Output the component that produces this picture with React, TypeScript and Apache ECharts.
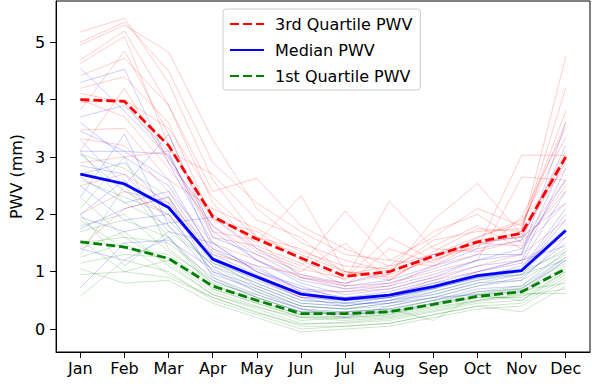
import React, { useEffect, useRef } from "react";
import * as echarts from "echarts";

const months = ["Jan", "Feb", "Mar", "Apr", "May", "Jun", "Jul", "Aug", "Sep", "Oct", "Nov", "Dec"];
const yTicks = [0, 1, 2, 3, 4, 5];

const q3 = [4.0, 3.97, 3.2, 1.96, 1.57, 1.24, 0.92, 1.0, 1.27, 1.52, 1.67, 3.0];
const median = [2.7, 2.53, 2.12, 1.22, 0.91, 0.61, 0.52, 0.59, 0.74, 0.93, 1.02, 1.72];
const q1 = [1.52, 1.43, 1.23, 0.75, 0.5, 0.27, 0.27, 0.3, 0.43, 0.57, 0.65, 1.05];

const redYears = [
  [5.18, 5.42, 4.3, 2.6, 1.6, 1.3, 1.0, 0.95, 1.2, 1.45, 1.7, 4.75],
  [4.95, 5.3, 4.83, 3.3, 2.1, 1.5, 1.2, 1.0, 1.55, 1.7, 1.75, 3.8],
  [4.69, 5.2, 3.9, 2.4, 2.63, 1.8, 1.4, 1.1, 1.3, 1.6, 1.85, 3.35],
  [4.63, 5.1, 3.2, 2.0, 1.5, 2.33, 1.0, 0.9, 1.25, 1.55, 1.6, 3.03],
  [4.42, 4.72, 3.9, 2.2, 1.4, 1.1, 2.06, 1.2, 1.1, 1.5, 1.62, 2.9],
  [4.2, 4.4, 3.6, 1.9, 1.7, 1.2, 0.85, 2.23, 1.4, 1.35, 1.55, 2.6],
  [4.11, 3.95, 3.0, 1.7, 1.55, 0.9, 0.8, 0.95, 1.9, 2.54, 1.65, 3.1],
  [4.0, 3.7, 2.8, 1.8, 1.3, 1.0, 1.5, 0.85, 1.3, 1.4, 3.03, 3.03],
  [3.82, 4.85, 3.4, 1.6, 1.45, 1.15, 0.75, 0.8, 1.0, 1.2, 2.65, 2.6],
  [3.47, 3.5, 2.6, 2.1, 1.75, 1.35, 1.1, 1.05, 1.45, 1.8, 1.4, 2.2],
  [3.32, 3.2, 2.4, 1.5, 1.2, 0.9, 0.7, 0.75, 1.1, 1.3, 1.95, 3.5],
  [2.9, 3.0, 3.1, 2.7, 1.9, 1.6, 0.95, 1.1, 1.7, 2.0, 1.5, 2.4],
  [2.5, 2.7, 2.2, 1.4, 1.0, 0.65, 0.65, 0.7, 0.9, 1.1, 1.3, 1.9],
  [2.0, 2.4, 2.0, 1.3, 1.1, 0.95, 0.75, 1.4, 1.15, 1.6, 1.9, 2.8],
  [1.43, 2.1, 2.3, 1.2, 0.9, 0.55, 0.55, 0.6, 0.85, 1.0, 1.2, 1.6],
  [5.0, 5.35, 4.5, 2.9, 2.2, 1.7, 1.3, 1.2, 1.6, 2.1, 1.8, 3.6],
  [3.95, 4.0, 3.5, 2.3, 1.6, 1.4, 1.0, 0.85, 1.35, 1.75, 1.7, 4.2],
  [3.1, 4.2, 2.9, 1.95, 1.35, 1.05, 0.88, 1.6, 1.2, 1.5, 1.45, 2.5],
];

const blueYears = [
  [4.55, 3.8, 3.0, 1.8, 1.2, 0.8, 0.6, 0.7, 0.9, 1.2, 1.3, 3.6],
  [4.3, 4.53, 2.9, 1.5, 1.0, 0.7, 0.55, 0.65, 0.85, 1.1, 1.2, 2.8],
  [3.7, 3.9, 3.1, 1.4, 1.1, 0.65, 0.5, 0.6, 0.8, 1.0, 1.15, 2.4],
  [3.45, 3.1, 2.6, 1.3, 0.95, 0.6, 0.45, 0.55, 0.75, 0.95, 1.05, 2.1],
  [3.1, 3.1, 3.05, 1.6, 1.3, 0.9, 0.75, 0.85, 1.1, 1.4, 1.55, 3.2],
  [3.05, 2.4, 2.2, 1.2, 0.85, 0.55, 0.4, 0.5, 0.7, 0.9, 1.0, 1.9],
  [2.85, 2.7, 1.9, 1.1, 0.8, 0.5, 0.45, 0.45, 0.65, 0.85, 0.95, 1.7],
  [2.65, 2.2, 2.4, 1.25, 0.9, 0.6, 0.55, 0.6, 0.8, 0.9, 1.1, 1.75],
  [2.5, 1.9, 2.0, 1.0, 0.75, 0.45, 0.4, 0.5, 0.6, 0.8, 0.85, 1.6],
  [2.3, 3.4, 1.8, 0.95, 0.7, 0.4, 0.35, 0.45, 0.55, 0.75, 0.9, 1.5],
  [2.0, 2.6, 1.7, 1.5, 1.0, 0.75, 0.5, 0.55, 0.7, 1.0, 1.2, 1.45],
  [1.75, 2.1, 2.3, 0.9, 0.6, 0.35, 0.3, 0.35, 0.5, 0.7, 0.75, 1.35],
  [1.4, 1.2, 1.6, 0.85, 0.55, 0.3, 0.25, 0.3, 0.45, 0.65, 0.7, 1.25],
  [0.72, 1.5, 1.55, 1.05, 0.65, 0.35, 0.2, 0.4, 0.55, 0.6, 0.65, 1.2],
  [3.6, 3.0, 2.5, 1.35, 1.05, 0.7, 0.65, 0.75, 0.95, 1.2, 1.4, 2.6],
  [2.7, 2.9, 2.1, 1.15, 0.88, 0.55, 0.5, 0.55, 0.72, 0.88, 1.02, 2.0],
  [1.95, 1.7, 1.85, 1.95, 1.4, 0.95, 0.8, 1.0, 1.3, 1.5, 1.6, 2.2],
  [3.3, 2.5, 3.4, 1.7, 1.2, 0.85, 0.7, 0.8, 1.05, 1.3, 1.3, 3.0],
];

const greenYears = [
  [3.1, 2.2, 1.8, 1.1, 0.7, 0.4, 0.35, 0.45, 0.6, 0.8, 0.95, 1.4],
  [3.05, 2.8, 2.3, 1.2, 0.75, 0.45, 0.4, 0.5, 0.65, 0.85, 1.0, 1.35],
  [2.3, 1.6, 1.5, 0.9, 0.55, 0.3, 0.3, 0.35, 0.5, 0.65, 0.75, 1.25],
  [2.1, 3.0, 1.4, 0.8, 0.6, 0.35, 0.25, 0.3, 0.45, 0.6, 0.7, 1.2],
  [1.9, 1.4, 1.3, 0.75, 0.5, 0.25, 0.2, 0.25, 0.4, 0.55, 0.65, 1.1],
  [1.7, 1.9, 1.6, 0.7, 0.45, 0.2, 0.15, 0.2, 0.35, 0.5, 0.6, 1.05],
  [1.55, 1.0, 1.2, 0.65, 0.4, 0.15, 0.2, 0.25, 0.45, 0.55, 0.55, 1.0],
  [1.4, 1.7, 1.1, 0.6, 0.35, 0.1, 0.1, 0.15, 0.3, 0.45, 0.5, 0.95],
  [1.25, 1.5, 0.95, 0.55, 0.3, 0.05, 0.05, 0.1, 0.25, 0.4, 0.45, 0.9],
  [1.05, 0.8, 0.85, 0.45, 0.2, -0.05, 0.0, 0.05, 0.2, 0.35, 0.4, 0.85],
  [0.57, 1.2, 1.0, 0.5, 0.25, 0.0, 0.05, 0.1, 0.25, 0.4, 0.3, 0.75],
  [2.6, 2.3, 2.0, 1.0, 0.65, 0.4, 0.35, 0.4, 0.55, 0.75, 0.85, 1.3],
  [1.8, 2.0, 1.35, 0.85, 0.55, 0.3, 0.28, 0.32, 0.5, 0.62, 0.72, 1.15],
  [1.15, 1.3, 1.25, 0.7, 0.45, 0.22, 0.18, 0.22, 0.38, 0.5, 0.62, 0.62],
  [2.0, 1.1, 1.7, 1.15, 0.8, 0.5, 0.45, 0.55, 0.7, 0.9, 0.95, 1.2],
  [1.5, 1.6, 1.15, 0.6, 0.38, 0.2, 0.22, 0.28, 0.42, 0.58, 0.68, 0.8],
  [0.95, 1.0, 0.9, 0.55, 0.28, 0.08, 0.12, 0.18, 0.32, 0.48, 0.58, 0.7],
  [1.3, 2.5, 1.6, 0.78, 0.48, 0.25, 0.3, 0.35, 0.15, 0.6, 0.5, 1.0],
];

const FONT = "DejaVu Sans";

function toPairs(vals: number[]) {
  return vals.map((v, i) => [i, v]);
}

export default function App() {
  const ref = useRef<HTMLDivElement>(null);

  useEffect(() => {
    if (!ref.current) return;
    const chart = echarts.init(ref.current, undefined, { renderer: "svg" });

    const thin: any[] = [];
    const n = Math.max(redYears.length, blueYears.length, greenYears.length);
    for (let k = 0; k < n; k++) {
      const groups: [number[][], string][] = [
        [redYears, "rgba(255,0,0,0.2)"],
        [blueYears, "rgba(0,0,255,0.2)"],
        [greenYears, "rgba(0,128,0,0.2)"],
      ];
      groups.forEach(([arr, color]) => {
        if (arr[k]) {
          thin.push({
            type: "line",
            data: toPairs(arr[k]),
            symbol: "none",
            silent: true,
            lineStyle: { color, width: 1 },
            z: 2,
          });
        }
      });
    }

    const thick = [
      { name: "3rd Quartile PWV", data: q3, color: "#ff0000", type: [9, 4] as any },
      { name: "Median PWV", data: median, color: "#0000ff", type: "solid" as any },
      { name: "1st Quartile PWV", data: q1, color: "#008000", type: [9, 4] as any },
    ].map((s) => ({
      type: "line",
      name: s.name,
      data: toPairs(s.data),
      symbol: "none",
      itemStyle: { color: s.color },
      lineStyle: { color: s.color, width: 2.8, type: s.type },
      z: 5,
    }));

    chart.setOption({
      animation: false,
      grid: {
        left: 51,
        right: 2,
        top: 1,
        bottom: 35,
        show: true,
        borderColor: "#000",
        borderWidth: 1,
        backgroundColor: "transparent",
      },
      legend: {
        data: ["3rd Quartile PWV", "Median PWV", "1st Quartile PWV"],
        orient: "vertical",
        left: 223,
        top: 9,
        padding: [7, 8, 6, 6],
        itemGap: 10,
        itemWidth: 34,
        itemHeight: 14,
        itemStyle: { opacity: 0 },
        backgroundColor: "rgba(255,255,255,0.8)",
        borderColor: "#cccccc",
        borderWidth: 1,
        borderRadius: 3,
        textStyle: { fontFamily: FONT, fontSize: 16, color: "#000", padding: [0, 0, 0, 6] },
      },
      xAxis: {
        type: "value",
        min: -0.55,
        max: 11.55,
        axisLine: { show: true, onZero: false, lineStyle: { color: "#000", width: 1 } },
        axisTick: { show: true, length: 6, customValues: months.map((_, i) => i), lineStyle: { color: "#000" } },
        axisLabel: {
          customValues: months.map((_, i) => i),
          formatter: (v: number) => months[Math.round(v)] ?? "",
          fontFamily: FONT,
          fontSize: 16,
          color: "#000",
          margin: 8,
        },
        splitLine: { show: false },
      },
      yAxis: {
        type: "value",
        min: -0.4,
        max: 5.72,
        name: "PWV (mm)",
        nameLocation: "middle",
        nameGap: 30,
        nameTextStyle: { fontFamily: FONT, fontSize: 16, color: "#000" },
        axisLine: { show: true, onZero: false, lineStyle: { color: "#000", width: 1 } },
        axisTick: { show: true, length: 6, customValues: yTicks, lineStyle: { color: "#000" } },
        axisLabel: {
          customValues: yTicks,
          formatter: (v: number) => String(v),
          fontFamily: FONT,
          fontSize: 16,
          color: "#000",
          margin: 11,
        },
        splitLine: { show: false },
      },
      series: [...thin, ...thick],
    });

    return () => chart.dispose();
  }, []);

  return (
    <div
      ref={ref}
      style={{ position: "fixed", left: 0, top: 0, width: 592, height: 387, background: "#fff" }}
    />
  );
}
